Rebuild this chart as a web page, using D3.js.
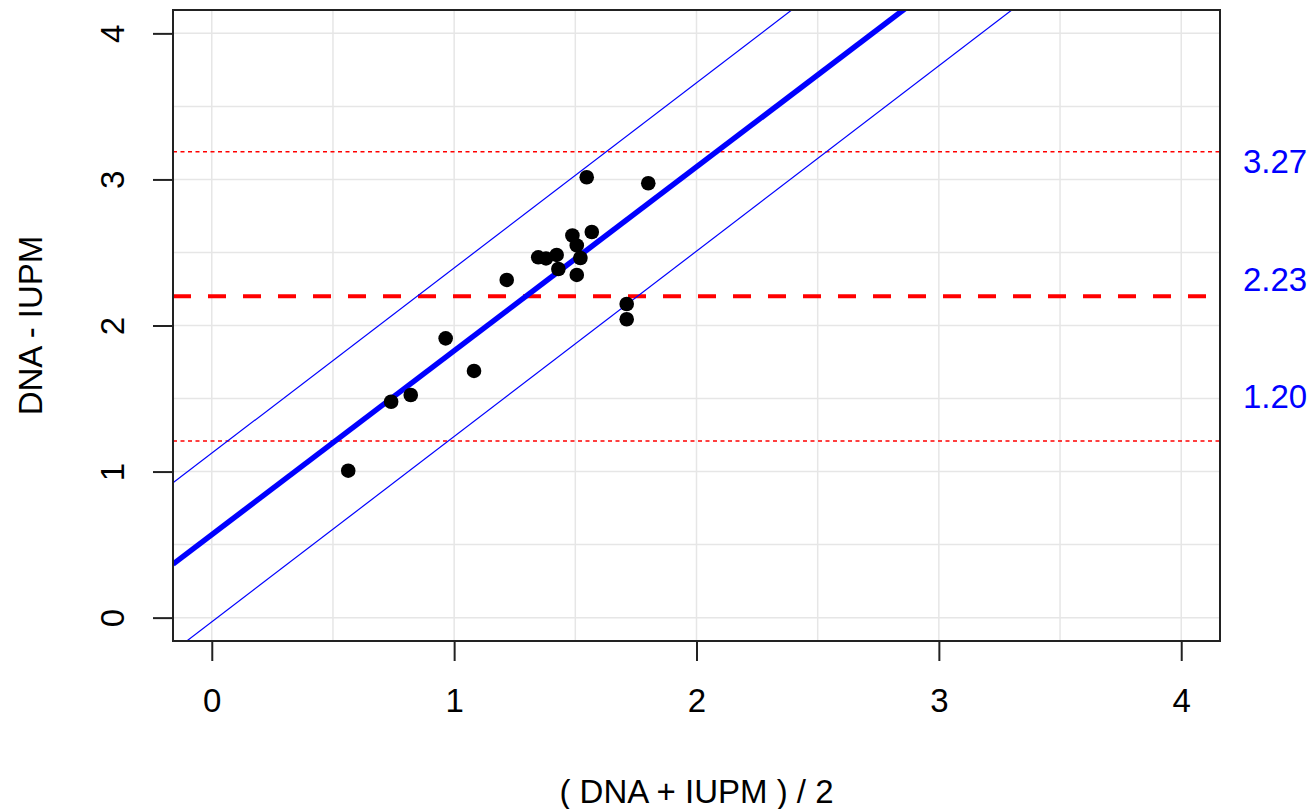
<!DOCTYPE html>
<html>
<head>
<meta charset="utf-8">
<script src="https://cdn.jsdelivr.net/npm/d3@7"></script>
<style>
  html, body { margin: 0; padding: 0; background: #fff; }
  svg { display: block; font-family: "Liberation Sans", Arial, sans-serif; }
</style>
</head>
<body>
<svg id="chart" width="1309" height="809"></svg>
<script>
// Bland–Altman style plot: mean of the two measures vs their difference
const meanVals = [0.563, 0.740, 0.821, 0.965, 1.082, 1.217, 1.347, 1.379, 1.423, 1.430,
                  1.488, 1.506, 1.506, 1.521, 1.547, 1.568, 1.712, 1.712, 1.801];
const diffVals = [1.006, 1.478, 1.524, 1.912, 1.689, 2.312, 2.467, 2.459, 2.483, 2.387,
                  2.616, 2.548, 2.346, 2.462, 3.015, 2.640, 2.147, 2.043, 2.974];

// Horizontal reference lines: upper limit, mean difference, lower limit
const refLevels = [3.19, 2.20, 1.21];
const refKinds  = ["limit", "mean", "limit"];
const refLabels = ["3.27", "2.23", "1.20"];

// Fitted trend and its band: [intercept, slope]
const fitLine   = [0.568, 1.259];
const bandUpper = [1.126, 1.268];
const bandLower = [-0.029, 1.269];

const xTicks = [0, 1, 2, 3, 4];
const yTicks = [0, 1, 2, 3, 4];
const gridSteps = [0, 0.5, 1, 1.5, 2, 2.5, 3, 3.5, 4];

const xTitle = "( DNA + IUPM ) / 2";
const yTitle = "DNA - IUPM";

const svg = d3.select("#chart");
const L = 173, R = 1220, T = 10, B = 641;
const x = d3.scaleLinear().domain([-0.16, 4.16]).range([L, R]);
const y = d3.scaleLinear().domain([-0.16, 4.16]).range([B, T]);
const FS = 33;

svg.append("defs").append("clipPath").attr("id", "plotClip")
  .append("rect").attr("x", L).attr("y", T).attr("width", R - L).attr("height", B - T);

// light grid
const grid = svg.append("g").attr("stroke", "#e6e6e6").attr("stroke-width", 1.5);
grid.selectAll("line.gx").data(gridSteps).join("line")
  .attr("x1", d => x(d)).attr("x2", d => x(d)).attr("y1", T).attr("y2", B);
grid.selectAll("line.gy").data(gridSteps).join("line")
  .attr("y1", d => y(d)).attr("y2", d => y(d)).attr("x1", L).attr("x2", R);

const plot = svg.append("g").attr("clip-path", "url(#plotClip)");

// reference levels
plot.selectAll("line.ref").data(refLevels).join("line")
  .attr("x1", L).attr("x2", R)
  .attr("y1", d => y(d)).attr("y2", d => y(d))
  .attr("stroke", "#ff0000")
  .attr("stroke-width", (d, i) => refKinds[i] === "mean" ? 4 : 1.5)
  .attr("stroke-dasharray", (d, i) => refKinds[i] === "mean" ? "18,17" : "4,3.5");

// trend line and band
const xr = x.domain();
const lineGen = d3.line().x(d => x(d[0])).y(d => y(d[1]));
const seg = c => xr.map(v => [v, c[0] + c[1] * v]);
[[bandUpper, 1.2], [bandLower, 1.2], [fitLine, 5.5]].forEach(([c, w]) => {
  plot.append("path").datum(seg(c)).attr("d", lineGen)
    .attr("fill", "none").attr("stroke", "#0000ff").attr("stroke-width", w);
});

// observations
plot.selectAll("circle").data(meanVals).join("circle")
  .attr("cx", d => x(d)).attr("cy", (d, i) => y(diffVals[i]))
  .attr("r", 7.3).attr("fill", "#000");

// frame
svg.append("rect").attr("x", L).attr("y", T).attr("width", R - L).attr("height", B - T)
  .attr("fill", "none").attr("stroke", "#222").attr("stroke-width", 2);

// bottom axis
const xAxis = svg.append("g").attr("transform", `translate(0,${B})`)
  .call(d3.axisBottom(x).tickValues(xTicks).tickFormat(d3.format("d")).tickSize(20).tickPadding(28));
xAxis.select(".domain").attr("d", `M${x(0)},0H${x(4)}`).attr("stroke", "#222").attr("stroke-width", 2);
xAxis.selectAll(".tick line").attr("stroke", "#222").attr("stroke-width", 2);
xAxis.selectAll(".tick text").attr("font-size", FS).attr("fill", "#000")
  .attr("font-family", "Liberation Sans, Arial, sans-serif");

// left axis with labels parallel to the axis
const yAxis = svg.append("g").attr("transform", `translate(${L},0)`)
  .call(d3.axisLeft(y).tickValues(yTicks).tickFormat(d3.format("d")).tickSize(20));
yAxis.select(".domain").attr("d", `M0,${y(0)}V${y(4)}`).attr("stroke", "#222").attr("stroke-width", 2);
yAxis.selectAll(".tick line").attr("stroke", "#222").attr("stroke-width", 2);
yAxis.selectAll(".tick text")
  .attr("font-size", FS).attr("fill", "#000")
  .attr("font-family", "Liberation Sans, Arial, sans-serif")
  .attr("x", null).attr("dy", null)
  .attr("text-anchor", "middle")
  .attr("transform", "translate(-49,0) rotate(-90)");

// right-hand annotation of the reference levels
svg.selectAll("text.reflab").data(refLabels).join("text")
  .attr("class", "reflab")
  .attr("x", 1243)
  .attr("y", (d, i) => 173 + i * 117.5)
  .attr("font-size", FS).attr("fill", "#0000ff")
  .text(d => d);

// axis titles
svg.append("text").attr("x", (L + R) / 2).attr("y", 803)
  .attr("text-anchor", "middle").attr("font-size", FS).attr("fill", "#000").text(xTitle);
svg.append("text").attr("transform", `translate(42,${(T + B) / 2}) rotate(-90)`)
  .attr("text-anchor", "middle").attr("font-size", FS).attr("fill", "#000").text(yTitle);
</script>
</body>
</html>
